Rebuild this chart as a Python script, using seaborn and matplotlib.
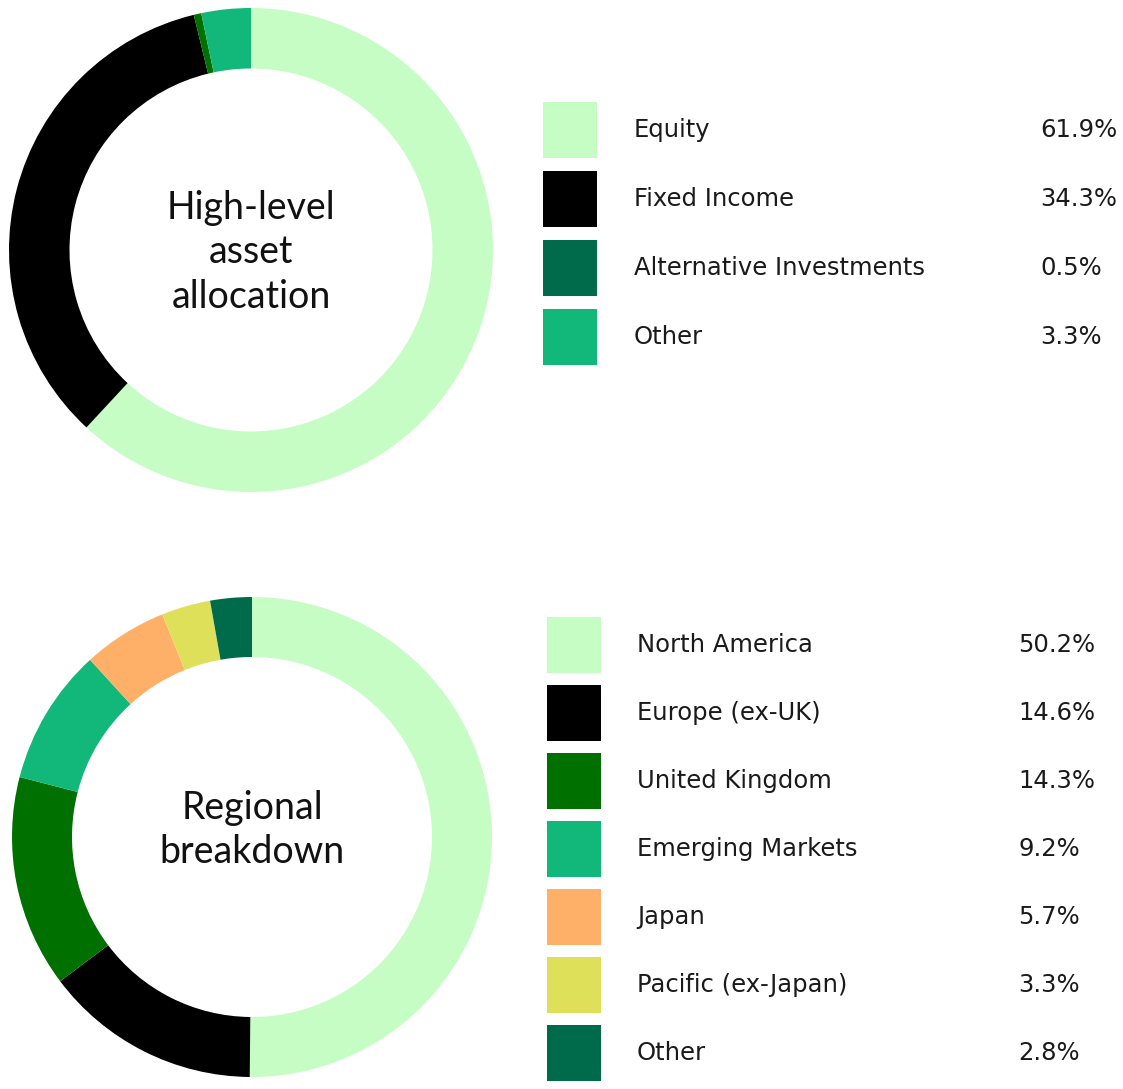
import matplotlib
matplotlib.use('Agg')
import matplotlib.pyplot as plt
from matplotlib.patches import Rectangle
import seaborn as sns

# données : répartition haut niveau
asset_labels = ['Equity', 'Fixed Income', 'Alternative Investments', 'Other']
asset_values = [61.9, 34.3, 0.5, 3.3]
asset_colors = ['#c5fdc5', '#000000', '#006b4b', '#12b77a']
asset_slice_colors = ['#c5fdc5', '#000000', '#007000', '#12b77a']

# données : répartition régionale
region_labels = ['North America', 'Europe (ex-UK)', 'United Kingdom', 'Emerging Markets',
                 'Japan', 'Pacific (ex-Japan)', 'Other']
region_values = [50.2, 14.6, 14.3, 9.2, 5.7, 3.3, 2.8]
region_colors = ['#c5fdc5', '#000000', '#007000', '#12b77a', '#ffb068', '#dfe05a', '#006b4b']

sns.set_theme(style='white')
plt.rcParams['font.family'] = ['Lato', 'DejaVu Sans']

W, H = 1123, 1089
fig = plt.figure(figsize=(W / 100, H / 100), dpi=100)
fig.patch.set_facecolor('white')


def donut(cx, cy, r, values, colors, title, ty=0.0):
    # axes placé en pixels, rayon 1 = r pixels
    ax = fig.add_axes([(cx - r) / W, 1 - (cy + r) / H, 2 * r / W, 2 * r / H])
    ax.pie(values, colors=colors, startangle=90, counterclock=False,
           wedgeprops=dict(width=0.25, linewidth=0))
    ax.set_xlim(-1, 1)
    ax.set_ylim(-1, 1)
    ax.set_aspect('equal')
    ax.axis('off')
    ax.text(0, ty, title, ha='center', va='center', fontsize=27,
            linespacing=1.28, color='#111111')


donut(251, 250, 242, asset_values, asset_slice_colors, 'High-level\nasset\nallocation', ty=-0.01)
donut(252, 837, 240, region_values, region_colors, 'Regional\nbreakdown', ty=0.03)

# légendes dans un axe en coordonnées pixels
leg = fig.add_axes([0, 0, 1, 1])
leg.set_xlim(0, W)
leg.set_ylim(H, 0)
leg.axis('off')


def legend_block(x0, y0, step, tx, vx, labels, values, colors):
    for i, (lab, val, col) in enumerate(zip(labels, values, colors)):
        yc = y0 + i * step
        leg.add_patch(Rectangle((x0, yc - 28), 54, 56, facecolor=col, edgecolor='none'))
        leg.text(tx, yc, lab, va='center', ha='left', fontsize=17.5,
                 family='DejaVu Sans', color='#1a1a1a')
        leg.text(vx, yc, f'{val:.1f}%', va='center', ha='left', fontsize=17.5,
                 family='DejaVu Sans', color='#1a1a1a')


legend_block(543, 130, 69, 634, 1040, asset_labels, asset_values, asset_colors)
legend_block(547, 645, 68, 637, 1018, region_labels, region_values, region_colors)

fig.savefig('out.png', dpi=100, facecolor='white')
